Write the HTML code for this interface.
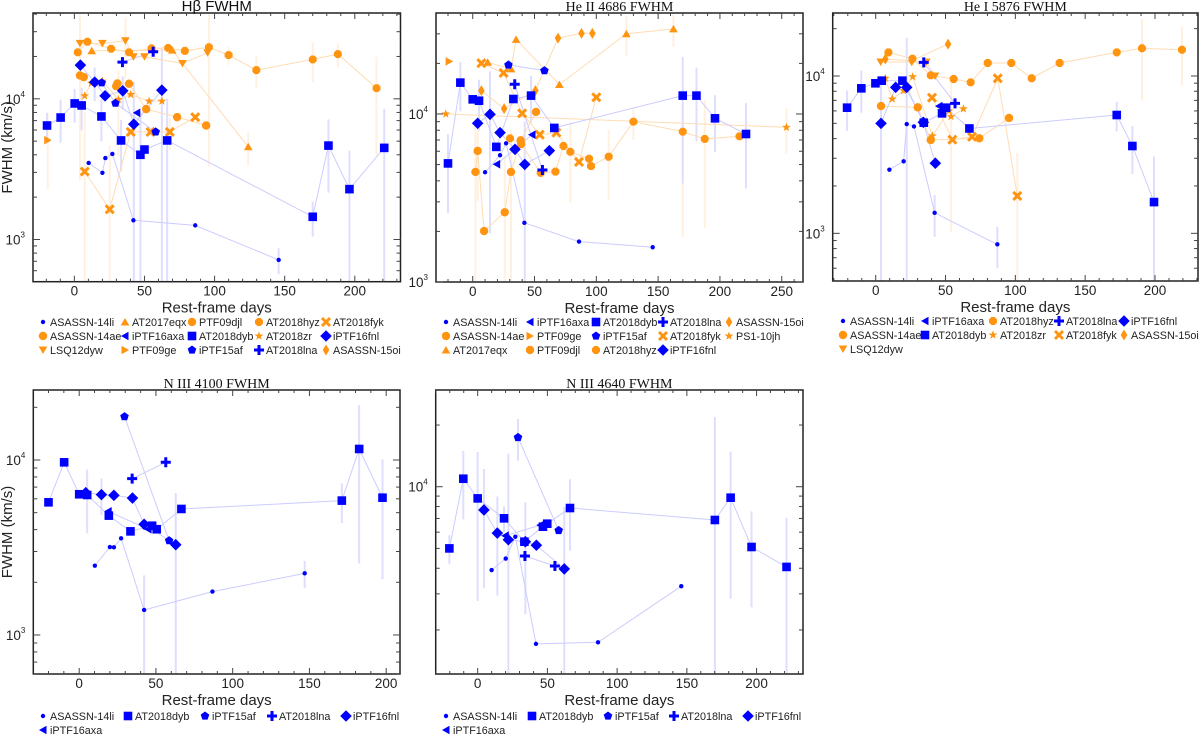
<!DOCTYPE html>
<html><head><meta charset="utf-8">
<style>
html,body{margin:0;padding:0;background:#fff;}
svg{display:block;}
text{font-family:"Liberation Sans",sans-serif;}
.serif{font-family:"Liberation Serif",serif;}
</style></head>
<body>
<svg id="fig" width="1200" height="741" viewBox="0 0 1200 741" xmlns="http://www.w3.org/2000/svg"></svg>
<script>
// ---------- Panel 1: H-beta ----------
const hb_14li_t=[10.2,20,22.1,27.1,42.1,86.2,145.7];
const hb_14li_v=[3500,2980,3790,4060,1370,1260,716];
const hb_14li_e=[0,0,0,0,0,0,150];
const hb_dyb_t=[-19.5,-9.8,0.2,5.2,19.3,33.3,47.1,50,66.2,170,181.2,196.2,221];
const hb_dyb_v=[6460,7360,9270,8970,7490,5060,4000,4360,5060,1450,4650,2280,4480];
const hb_dyb_e=[1500,2500,2500,3000,2500,2000,4000,0,5000,400,2500,2000,4000];
const hb_fnl_t=[4.3,14.5,21.9,34.5,42.4,62.4];
const hb_fnl_v=[17350,13140,10500,11400,6600,11520];
const hb_fnl_e=[0,3500,0,3000,6600,11500];
const hb_15af_t=[19.5,29.3,58];
const hb_15af_v=[13000,9310,5820];
const hb_axa_t=[44.5];
const hb_axa_v=[7950];
const hb_lna_t=[34.3,56.2];
const hb_lna_v=[18240,21600];
const hb_hyz_t=[2.4,9.3,26.2,39,55,66.9,78.8,96,110,129.8,170,187.9,215.5];
const hb_hyz_v=[21400,25430,22700,21400,22840,23000,21900,23290,20460,16000,19050,20790,11910];
const hb_hyz_e=[0,0,0,0,0,0,0,20000,3000,4000,6000,4000,8000];
const hb_djl_t=[29.8,30.7,39,51.2,73.3,94];
const hb_djl_v=[12300,12850,12800,8450,7410,6460];
const hb_14ae_t=[4,6.7];
const hb_14ae_v=[14650,14260];
const hb_14ae_e=[12000,0];
const hb_lsq_t=[4,20,36.4,42.1,50,77.1,95];
const hb_lsq_v=[24780,24780,25880,19920,19920,17830,21250];
const hb_lsq_e=[15000,0,12000,0,0,0,0];
const hb_eqx_t=[12.4,69.8,124];
const hb_eqx_v=[21930,22180,4560];
const hb_eqx_e=[0,0,1200];
const hb_zr_t=[7.4,12.1,20,31.4,40.2,53.3,62.4];
const hb_zr_v=[10500,12920,13360,9890,10740,9620,9630];
const hb_zr_e=[0,0,0,6000,0,0,0];
const hb_fyk_t=[7.4,25.2,40.2,54.3,68.1,86.2];
const hb_fyk_v=[3040,1640,5820,5820,5820,7410];
const hb_fyk_e=[5000,3000,0,0,1500,0];
const hb_ge_t=[-19];
const hb_ge_v=[5080];
const hb_ge_e=[2800];
// ---------- Panel 2: He II ----------
const h2_14li_t=[10,22.1,27,41.8,86,145.6];
const h2_14li_v=[4500,5680,6690,2250,1740,1610];
const h2_dyb_t=[-20,-10,0,5.1,19.1,32.9,47.2,66,169.9,181,196,221.1];
const h2_dyb_v=[5080,15370,12220,11990,6370,12280,12860,8260,12860,12860,9420,7600];
const h2_dyb_e=[2500,5000,0,4000,0,0,4000,0,9000,6000,3500,4000];
const h2_fnl_t=[4,14,22.1,34.2,42.1,62];
const h2_fnl_v=[8800,9950,7740,6160,5010,6050];
const h2_fnl_e=[0,8000,0,0,4000,0];
const h2_15af_t=[28.9,58];
const h2_15af_v=[19580,18120];
const h2_axa_t=[19.4,48];
const h2_axa_v=[5020,7530];
const h2_lna_t=[34,56.4];
const h2_lna_v=[15020,4640];
const h2_hyz_t=[30.2,39.1,55,66.9,73.4,79,94.1,95.7,110,130,169.9,187.7,215.8];
const h2_hyz_v=[7160,6620,4460,4540,6450,5950,5420,4900,5570,9000,7850,7100,7360];
const h2_hyz_e=[0,0,0,0,0,3000,0,0,2500,2000,6000,5000,0];
const h2_14ae_t=[2.2,4,9.2,25.9,31,38.8,51.2];
const h2_14ae_v=[4520,6030,2010,2600,4520,6970,10280];
const h2_14ae_e=[4000,3000,0,3000,3500,0,0];
const h2_eqx_t=[12.1,31,35.1,70.1,124.3,162.4];
const h2_eqx_v=[20300,18540,27800,14970,30060,32070];
const h2_eqx_e=[0,0,0,0,8000,7000];
const h2_15oi_t=[7,25.4,50.7,69,88,96.8];
const h2_15oi_v=[13780,10760,13780,28300,30200,30200];
const h2_fyk_t=[7,25,40,54.2,67.7,86,100];
const h2_fyk_v=[20060,17540,10090,7530,7740,5180,12560];
const h2_ge_t=[-19.1];
const h2_ge_v=[20550];
const h2_jh_t=[-21.8,253.8];
const h2_jh_v=[10000,8330];
const h2_jh_e=[0,2500];
// ---------- Panel 3: He I ----------
const h1_14li_t=[9.8,20,22.2,27.4,42.2,87.1];
const h1_14li_v=[2540,2870,4950,4780,1350,851];
const h1_14li_e=[0,0,0,0,400,250];
const h1_dyb_t=[-20.5,-10.3,-0.2,4.3,19.1,34.4,47.5,50.4,67.1,172.6,183.8,199.3];
const h1_dyb_v=[6290,8350,8990,9340,9340,5050,5790,6290,4640,5650,3590,1580];
const h1_dyb_e=[1800,2500,0,0,0,0,0,0,0,1200,1200,1500];
const h1_fnl_t=[3.8,14.3,22.2,34.1,42.7];
const h1_fnl_v=[5000,8470,8470,5080,2790];
const h1_fnl_e=[5000,0,9000,0,0];
const h1_axa_t=[45.3];
const h1_axa_v=[6440];
const h1_lna_t=[34.4,56.8];
const h1_lna_v=[12210,6700];
const h1_14ae_t=[3.8,30.1,39.4,74.2,95.5];
const h1_14ae_v=[6440,6320,3920,4020,5410];
const h1_hyz_t=[9.1,26.3,39.4,55.8,68,80.2,97.1,111.7,131.7,172.6,190.7,219.3];
const h1_hyz_v=[14130,12890,10100,9570,9110,12100,12100,9670,12100,14130,15000,14690];
const h1_hyz_e=[0,0,0,0,0,0,0,0,0,0,8000,6000];
const h1_lsq_t=[3.6,36.3,42.5];
const h1_lsq_v=[12270,12270,10000];
const h1_zr_t=[6.9,11.9,20,26.5,40.6,52.5,53.9,62.8];
const h1_zr_v=[9670,7140,8070,9900,4160,6000,5520,6190];
const h1_zr_e=[0,0,0,0,0,0,4500,0];
const h1_fyk_t=[40.3,54.9,69,87.4,101.4];
const h1_fyk_v=[7280,3940,4110,9670,1730];
const h1_fyk_e=[0,0,0,0,1500];
const h1_15oi_t=[6.9,25.8,51.8];
const h1_15oi_v=[12830,12500,15960];
// ---------- Panel 4: N III 4100 ----------
const n1_14li_t=[10.2,20,22.6,27.3,42.3,86.8,146.9];
const n1_14li_v=[2490,3180,3170,3570,1390,1770,2250];
const n1_14li_e=[0,0,0,0,800,0,400];
const n1_dyb_t=[-20,-9.8,0,5.2,19.3,33.4,47.5,50.5,66.6,171.1,182.4,197.6];
const n1_dyb_v=[5730,9700,6370,6310,4810,3910,4210,4020,5250,5860,11560,6090];
const n1_dyb_e=[0,0,0,2500,0,0,0,0,0,1500,9000,4000];
const n1_fnl_t=[4.3,14.5,22.6,34.7,42.3,62.9];
const n1_fnl_v=[6500,6340,6280,6060,4290,3280];
const n1_fnl_e=[0,1500,0,0,0,3200];
const n1_15af_t=[29.5,58.6];
const n1_15af_v=[17700,3460];
const n1_axa_t=[18.9,44.9];
const n1_axa_v=[5090,4020];
const n1_lna_t=[34.5,56.4];
const n1_lna_v=[7820,9700];
// ---------- Panel 5: N III 4640 ----------
const n2_14li_t=[10,20.1,27,41.8,86.3,146];
const n2_14li_v=[3920,4460,5700,1710,1740,3270];
const n2_dyb_t=[-20.3,-10.3,0,18.9,33.5,46.8,49.9,66.2,170.1,181.4,196.4,221.5];
const n2_dyb_v=[5000,10940,8770,7010,5390,6380,6600,7870,6880,8840,5080,4060];
const n2_dyb_e=[800,4000,6000,1000,0,0,0,3000,15000,6000,2500,3000];
const n2_fnl_t=[4.5,14.1,22,34.2,42.1,62.1];
const n2_fnl_v=[7700,5940,5510,5390,5180,3970];
const n2_fnl_e=[4500,3000,9000,3000,0,4000];
const n2_15af_t=[28.9,58.1];
const n2_15af_v=[17400,6120];
const n2_15af_e=[4000,0];
const n2_axa_t=[19.8,44.9];
const n2_axa_v=[5770,6500];
const n2_lna_t=[33.9,55.4];
const n2_lna_v=[4590,4100];

const BLUE='#0000ff', ORANGE='#ff9410';
const STY={
 'ASASSN-14li':[BLUE,'dot'],'AT2018dyb':[BLUE,'square'],'iPTF16fnl':[BLUE,'diamond'],'iPTF15af':[BLUE,'pentagon'],
 'iPTF16axa':[BLUE,'tleft'],'AT2018lna':[BLUE,'plus'],'AT2018hyz':[ORANGE,'hexagon'],'PTF09djl':[ORANGE,'circle'],
 'ASASSN-14ae':[ORANGE,'circle'],'LSQ12dyw':[ORANGE,'tdown'],'AT2017eqx':[ORANGE,'tup'],'AT2018zr':[ORANGE,'star'],
 'AT2018fyk':[ORANGE,'cross'],'PTF09ge':[ORANGE,'tright'],'ASASSN-15oi':[ORANGE,'thindiamond'],'PS1-10jh':[ORANGE,'star']
};
const NS='http://www.w3.org/2000/svg';
const svg=document.getElementById('fig');
function mk(tag,attrs,parent){const e=document.createElementNS(NS,tag);for(const k in attrs)e.setAttribute(k,attrs[k]);(parent||svg).appendChild(e);return e;}
function poly(n,r,cx,cy,rot){const p=[];for(let i=0;i<n;i++){const a=rot+i*2*Math.PI/n;p.push((cx+r*Math.cos(a)).toFixed(1)+','+(cy+r*Math.sin(a)).toFixed(1));}return p.join(' ');}
function marker(g,shape,cx,cy,c){
 let e;
 switch(shape){
 case 'dot':e=mk('circle',{cx,cy,r:2.2,fill:c},g);break;
 case 'circle':e=mk('circle',{cx,cy,r:4.2,fill:c},g);break;
 case 'hexagon':e=mk('polygon',{points:poly(8,4.3,cx,cy,Math.PI/8),fill:c},g);break;
 case 'square':e=mk('rect',{x:cx-4.3,y:cy-4.3,width:8.6,height:8.6,fill:c},g);break;
 case 'diamond':e=mk('polygon',{points:`${cx},${cy-5.8} ${cx+5.8},${cy} ${cx},${cy+5.8} ${cx-5.8},${cy}`,fill:c},g);break;
 case 'thindiamond':e=mk('polygon',{points:`${cx},${cy-5.5} ${cx+3.3},${cy} ${cx},${cy+5.5} ${cx-3.3},${cy}`,fill:c},g);break;
 case 'pentagon':e=mk('polygon',{points:poly(5,4.5,cx,cy,-Math.PI/2),fill:c},g);break;
 case 'tup':e=mk('polygon',{points:poly(3,5,cx,cy+1,-Math.PI/2),fill:c},g);break;
 case 'tdown':e=mk('polygon',{points:poly(3,5,cx,cy-1,Math.PI/2),fill:c},g);break;
 case 'tleft':e=mk('polygon',{points:poly(3,5,cx+1,cy,Math.PI),fill:c},g);break;
 case 'tright':e=mk('polygon',{points:poly(3,5,cx-1,cy,0),fill:c},g);break;
 case 'star':{const p=[];for(let i=0;i<10;i++){const a=-Math.PI/2+i*Math.PI/5,r=i%2?1.9:4.6;p.push((cx+r*Math.cos(a)).toFixed(1)+','+(cy+r*Math.sin(a)).toFixed(1));}e=mk('polygon',{points:p.join(' '),fill:c},g);break;}
 case 'plus':e=mk('path',{d:`M${cx-5},${cy}H${cx+5}M${cx},${cy-5}V${cy+5}`,stroke:c,'stroke-width':3,fill:'none'},g);break;
 case 'cross':e=mk('path',{d:`M${cx-4},${cy-4}L${cx+4},${cy+4}M${cx+4},${cy-4}L${cx-4},${cy+4}`,stroke:c,'stroke-width':3,fill:'none'},g);break;
 }
 return e;
}
function panel(cfg){
 const {key,x0,x1,y0,y1,xd,yd,title,serif,xmax,ylabels,series,legend,lx,ly}=cfg;
 const g=mk('g',{});
 
 
 const sx=d=>x0+(d-xd[0])/(xd[1]-xd[0])*(x1-x0);
 const sy=v=>y1-(Math.log10(v)-yd[0])/(yd[1]-yd[0])*(y1-y0);
 const cy=v=>Math.max(y0,Math.min(y1,sy(Math.max(v,1))));
 series.forEach(s=>{
  if(!s.e)return;
  const c=STY[s.n][0]==BLUE?'#dedeff':'#fff0e0';
  s.t.forEach((t,i)=>{if(!s.e[i])return;
   const b=mk('line',{x1:sx(t),x2:sx(t),y1:cy(s.v[i]+s.e[i]),y2:cy(s.v[i]-s.e[i]),stroke:c,'stroke-width':2},g);
   
   
  });
 });
 series.forEach(s=>{
  if(s.t.length<2)return;
  const c=STY[s.n][0]==BLUE?'#ccccff':'#ffdcb4';
  const pts=s.t.map((t,i)=>sx(t).toFixed(1)+','+sy(s.v[i]).toFixed(1)).join(' ');
  const l=mk('polyline',{points:pts,fill:'none',stroke:c,'stroke-width':1},g);
  
  
 });
 series.forEach(s=>{
  const [c,sh]=STY[s.n];
  s.t.forEach((t,i)=>{
   const m=marker(g,sh,sx(t),sy(s.v[i]),c);
   
   
  });
 });
 const f=mk('rect',{x:x0,y:y0,width:x1-x0,height:y1-y0,fill:'none',stroke:'#222','stroke-width':1.5},g);
 
 
 for(let d=Math.ceil(xd[0]/10)*10;d<=xd[1];d+=10){
  const X=sx(d),L=d%50==0?6:3;
  mk('line',{x1:X,x2:X,y1:y1,y2:y1-L,stroke:'#444'},g);
  mk('line',{x1:X,x2:X,y1:y0,y2:y0+L,stroke:'#444'},g);
  if(d%50==0&&d>=0&&d<=xmax){const tl=mk('text',{x:X,y:y1+14,'text-anchor':'middle','font-size':13.5,fill:'#222'},g);tl.textContent=d;
   
   }
 }
 for(let k=2;k<=4;k++)for(let m=1;m<=9;m++){
  const v=m*Math.pow(10,k),lv=Math.log10(v);
  if(lv<yd[0]||lv>yd[1])continue;
  const Y=sy(v),L=m==1?7:4;
  mk('line',{x1:x0,x2:x0+L,y1:Y,y2:Y,stroke:'#444'},g);
  mk('line',{x1:x1,x2:x1-L,y1:Y,y2:Y,stroke:'#444'},g);
  if(m==1&&ylabels.includes(k)){
   const tl=mk('text',{x:x0-8,y:Y+5,'text-anchor':'end','font-size':13.5,fill:'#222'},g);
   
   
   tl.textContent='10';
   const sp=mk('tspan',{'font-size':8,dy:-7},tl);sp.textContent=k;
  }
 }
 const tt=mk('text',{x:(x0+x1)/2,y:y0-2,'text-anchor':'middle','font-size':serif?14:15,fill:'#111',class:serif?'serif':''},g);
 tt.textContent=title;
 
 
 const xl=mk('text',{x:(x0+x1)/2,y:y1+31,'text-anchor':'middle','font-size':15,fill:'#222'},g);
 xl.textContent='Rest-frame days';
 
 
 if(cfg.ylab){
  const yl=mk('text',{x:0,y:0,'text-anchor':'middle','font-size':15,fill:'#222',transform:`translate(12,${(y0+y1)/2}) rotate(-90)`},g);
  yl.textContent='FWHM (km/s)';
  
  
 }
 legend.forEach((name,i)=>{
  const col=i%5,row=Math.floor(i/5);
  const X=lx[col],Y=ly+row*14;
  const lg=mk('g',{},g);
  
  
  const [c,sh]=STY[name];
  marker(lg,sh,X,Y-4,c);
  const t=mk('text',{x:X+7,y:Y,'font-size':10.8,fill:'#222'},lg);t.textContent=name;
 });
}
const S=(n,t,v,e)=>({n,t,v,e});
panel({key:'hbeta',x0:33,x1:400.5,y0:13,y1:281.7,xd:[-29.5,232.6],yd:[2.70,4.61],title:'Hβ FWHM',serif:false,xmax:200,ylabels:[3,4],ylab:true,
 series:[S('AT2018fyk',hb_fyk_t,hb_fyk_v,hb_fyk_e),S('PTF09ge',hb_ge_t,hb_ge_v,hb_ge_e),S('AT2018zr',hb_zr_t,hb_zr_v,hb_zr_e),S('AT2017eqx',hb_eqx_t,hb_eqx_v,hb_eqx_e),
 S('LSQ12dyw',hb_lsq_t,hb_lsq_v,hb_lsq_e),S('ASASSN-14ae',hb_14ae_t,hb_14ae_v,hb_14ae_e),S('PTF09djl',hb_djl_t,hb_djl_v),S('AT2018hyz',hb_hyz_t,hb_hyz_v,hb_hyz_e),
 S('ASASSN-14li',hb_14li_t,hb_14li_v,hb_14li_e),S('AT2018dyb',hb_dyb_t,hb_dyb_v,hb_dyb_e),S('iPTF16fnl',hb_fnl_t,hb_fnl_v,hb_fnl_e),S('iPTF15af',hb_15af_t,hb_15af_v),
 S('iPTF16axa',hb_axa_t,hb_axa_v),S('AT2018lna',hb_lna_t,hb_lna_v)],
 legend:['ASASSN-14li','AT2017eqx','PTF09djl','AT2018hyz','AT2018fyk','ASASSN-14ae','iPTF16axa','AT2018dyb','AT2018zr','iPTF16fnl','LSQ12dyw','PTF09ge','iPTF15af','AT2018lna','ASASSN-15oi'],
 lx:[43,125,192,259,326],ly:326});
panel({key:'he2',x0:436,x1:803,y0:13,y1:282,xd:[-29.7,267.2],yd:[3.0,4.601],title:'He II 4686 FWHM',serif:true,xmax:250,ylabels:[3,4],
 series:[S('PS1-10jh',h2_jh_t,h2_jh_v,h2_jh_e),S('PTF09ge',h2_ge_t,h2_ge_v),S('AT2018fyk',h2_fyk_t,h2_fyk_v),S('ASASSN-15oi',h2_15oi_t,h2_15oi_v),S('AT2017eqx',h2_eqx_t,h2_eqx_v,h2_eqx_e),
 S('ASASSN-14ae',h2_14ae_t,h2_14ae_v,h2_14ae_e),S('AT2018hyz',h2_hyz_t,h2_hyz_v,h2_hyz_e),S('ASASSN-14li',h2_14li_t,h2_14li_v),S('AT2018dyb',h2_dyb_t,h2_dyb_v,h2_dyb_e),
 S('iPTF16fnl',h2_fnl_t,h2_fnl_v,h2_fnl_e),S('iPTF15af',h2_15af_t,h2_15af_v),S('iPTF16axa',h2_axa_t,h2_axa_v),S('AT2018lna',h2_lna_t,h2_lna_v)],
 legend:['ASASSN-14li','iPTF16axa','AT2018dyb','AT2018lna','ASASSN-15oi','ASASSN-14ae','PTF09ge','iPTF15af','AT2018fyk','PS1-10jh','AT2017eqx','PTF09djl','AT2018hyz','iPTF16fnl'],
 lx:[446,530,596,663,729],ly:326});
panel({key:'he1',x0:832.7,x1:1198,y0:13,y1:281,xd:[-30.8,230.8],yd:[2.697,4.4005],title:'He I 5876 FWHM',serif:true,xmax:200,ylabels:[3,4],
 series:[S('AT2018fyk',h1_fyk_t,h1_fyk_v,h1_fyk_e),S('AT2018zr',h1_zr_t,h1_zr_v,h1_zr_e),S('LSQ12dyw',h1_lsq_t,h1_lsq_v),S('ASASSN-15oi',h1_15oi_t,h1_15oi_v),
 S('ASASSN-14ae',h1_14ae_t,h1_14ae_v),S('AT2018hyz',h1_hyz_t,h1_hyz_v,h1_hyz_e),S('ASASSN-14li',h1_14li_t,h1_14li_v,h1_14li_e),S('AT2018dyb',h1_dyb_t,h1_dyb_v,h1_dyb_e),
 S('iPTF16fnl',h1_fnl_t,h1_fnl_v,h1_fnl_e),S('iPTF16axa',h1_axa_t,h1_axa_v),S('AT2018lna',h1_lna_t,h1_lna_v)],
 legend:['ASASSN-14li','iPTF16axa','AT2018hyz','AT2018lna','iPTF16fnl','ASASSN-14ae','AT2018dyb','AT2018zr','AT2018fyk','ASASSN-15oi','LSQ12dyw'],
 lx:[843,925,993,1059,1124],ly:325});
panel({key:'n3-4100',x0:33.3,x1:400,y0:390,y1:674,xd:[-29.9,209],yd:[2.777,4.4],title:'N III 4100 FWHM',serif:true,xmax:200,ylabels:[3,4],ylab:true,
 series:[S('ASASSN-14li',n1_14li_t,n1_14li_v,n1_14li_e),S('AT2018dyb',n1_dyb_t,n1_dyb_v,n1_dyb_e),S('iPTF16fnl',n1_fnl_t,n1_fnl_v,n1_fnl_e),
 S('iPTF15af',n1_15af_t,n1_15af_v),S('iPTF16axa',n1_axa_t,n1_axa_v),S('AT2018lna',n1_lna_t,n1_lna_v)],
 legend:['ASASSN-14li','AT2018dyb','iPTF15af','AT2018lna','iPTF16fnl','iPTF16axa'],
 lx:[43,128,205,272,346],ly:720});
panel({key:'n3-4640',x0:435.7,x1:803,y0:390,y1:674,xd:[-30.1,233.3],yd:[3.086,4.472],title:'N III 4640 FWHM',serif:true,xmax:200,ylabels:[4],
 series:[S('ASASSN-14li',n2_14li_t,n2_14li_v),S('AT2018dyb',n2_dyb_t,n2_dyb_v,n2_dyb_e),S('iPTF16fnl',n2_fnl_t,n2_fnl_v,n2_fnl_e),
 S('iPTF15af',n2_15af_t,n2_15af_v,n2_15af_e),S('iPTF16axa',n2_axa_t,n2_axa_v),S('AT2018lna',n2_lna_t,n2_lna_v)],
 legend:['ASASSN-14li','AT2018dyb','iPTF15af','AT2018lna','iPTF16fnl','iPTF16axa'],
 lx:[446,532,608,674,748],ly:720});
</script>
</body></html>
